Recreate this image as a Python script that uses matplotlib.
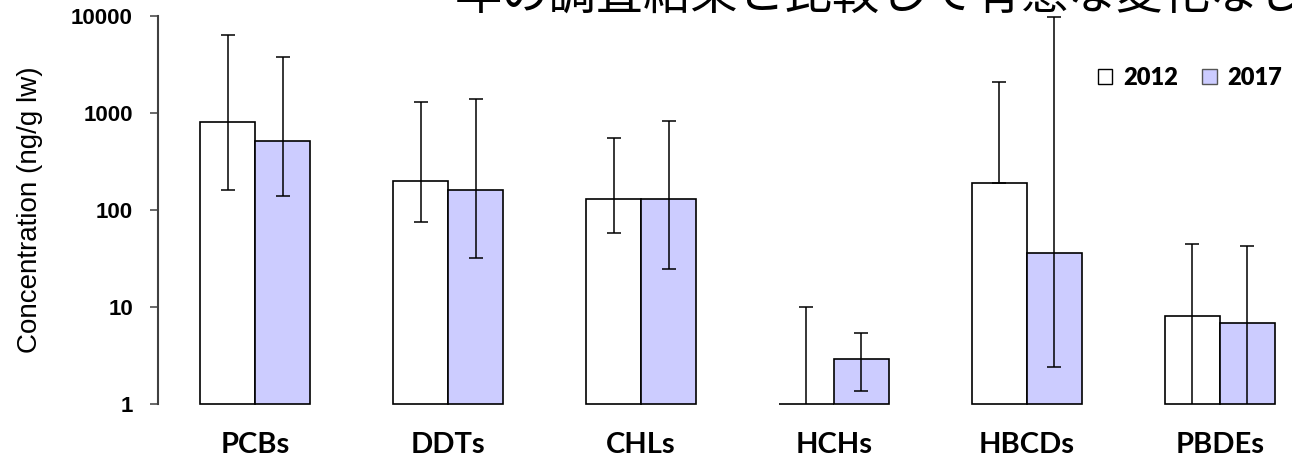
import numpy as np
import matplotlib
matplotlib.use("Agg")
import matplotlib.pyplot as plt
from matplotlib.patches import Patch

# Median concentrations (ng/g lw) with min / max range, 2012 vs 2017
compounds = ["PCBs", "DDTs", "CHLs", "HCHs", "HBCDs", "PBDEs"]
conc_2012 = np.array([800, 200, 130, 1.0, 190, 8.1])
low_2012 = np.array([160, 76, 58, 0.5, 190, 0.5])
high_2012 = np.array([6400, 1300, 555, 10, 2100, 45])
conc_2017 = np.array([520, 160, 130, 2.9, 36, 6.8])
low_2017 = np.array([140, 32, 24.5, 1.36, 2.4, 0.5])
high_2017 = np.array([3800, 1400, 825, 5.4, 9800, 43])

years = ["2012", "2017"]
fill_2012 = "white"
fill_2017 = "#CCCCFF"

title_jp = "年の調査結果と比較して有意な変化なし"

fig = plt.figure(figsize=(12.92, 4.59), dpi=100)
ax = fig.add_axes([158 / 1292, 1 - 404 / 459, 1159 / 1292, 388 / 459])

x = np.arange(len(compounds))
w = 0.285

for off, vals, lo, hi, color in [
    (-w / 2, conc_2012, low_2012, high_2012, fill_2012),
    (w / 2, conc_2017, low_2017, high_2017, fill_2017),
]:
    ax.bar(x + off, vals - 1, width=w, bottom=1, color=color,
           edgecolor="black", linewidth=1.2, clip_on=False, zorder=2)
    ax.errorbar(x + off, vals, yerr=[vals - lo, hi - vals], fmt="none",
                ecolor="black", elinewidth=1.1, capsize=4.8, capthick=1.1,
                zorder=3)

ax.set_yscale("log")
ax.set_ylim(1, 10000)
ax.set_xlim(-0.503, len(compounds) - 1 + 0.503)
ax.set_yticks([1, 10, 100, 1000, 10000])
ax.set_yticklabels(["1", "10", "100", "1000", "10000"],
                   fontfamily="Liberation Sans", fontweight="bold", fontsize=16)
ax.yaxis.set_minor_locator(matplotlib.ticker.NullLocator())
ax.tick_params(axis="y", direction="out", length=6, width=1.1,
               color="#404040", pad=12)

ax.set_xticks(x)
ax.set_xticklabels(compounds, fontfamily="Lato", fontweight="bold", fontsize=21)
ax.tick_params(axis="x", length=0, pad=20)

for side in ["top", "right", "bottom"]:
    ax.spines[side].set_visible(False)
ax.spines["left"].set_color("#404040")
ax.spines["left"].set_linewidth(1.5)

ax.set_ylabel("Concentration (ng/g lw)", fontfamily="Liberation Sans",
              fontsize=20)
ax.yaxis.set_label_coords(-0.099, 0.5)

handles = [
    Patch(facecolor=fill_2012, edgecolor="black", linewidth=1),
    Patch(facecolor=fill_2017, edgecolor="#555555", linewidth=1),
]
fig.legend(handles, years, loc="center left",
           bbox_to_anchor=(1098 / 1292, 1 - 78 / 459),
           bbox_transform=fig.transFigure, ncol=2, frameon=False,
           borderpad=0, borderaxespad=0, handlelength=0.6, handleheight=0.6,
           handletextpad=0.45, columnspacing=1.05,
           prop={"family": "Lato", "weight": "heavy", "size": 17})

# heading continues above the visible area of the figure
fig.text(455 / 1292, 1 - 9 / 459, title_jp, fontfamily="Noto Sans CJK JP",
         fontsize=34, ha="left", va="baseline")

fig.savefig("out.png", dpi=100)
